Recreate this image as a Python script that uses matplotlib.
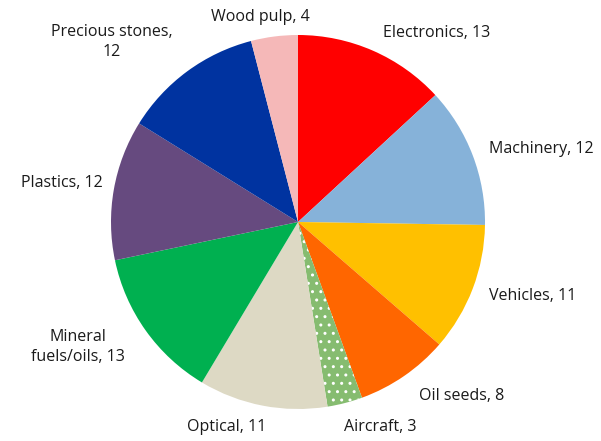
import matplotlib
matplotlib.use("Agg")
import matplotlib.pyplot as plt

# Data
categories = ["Electronics", "Machinery", "Vehicles", "Oil seeds", "Aircraft",
              "Optical", "Mineral\nfuels/oils", "Plastics", "Precious stones,\n", "Wood pulp"]
values = [13, 12, 11, 8, 3, 11, 13, 12, 12, 4]
colors = ["#FF0000", "#86B2D9", "#FFC000", "#FF6600", "#86BC70",
          "#DDD9C4", "#00B050", "#664A7F", "#0033A0", "#F5B8B8"]

# label placement (data units, radius = 1)
label_pos = [(0.743, 1.011), (1.30, 0.39), (1.257, -0.396),
             (0.877, -0.930), (0.439, -1.096), (-0.380, -1.096),
             (-1.176, -0.668), (-1.262, 0.209), (-0.995, 0.963),
             (-0.203, 1.096)]

plt.rcParams['font.family'] = ['Open Sans', 'DejaVu Sans']

fig = plt.figure(figsize=(6.01, 4.41), dpi=100)
cx, cy, r = 298, 222, 187
W, H = 601, 441
ax = fig.add_axes([(cx - r) / W, (H - cy - r) / H, 2 * r / W, 2 * r / H])

wedges, _ = ax.pie(values, colors=colors, startangle=90, counterclock=False,
                   radius=1, wedgeprops=dict(linewidth=0))
# dotted pattern on the aircraft slice
wedges[4].set_hatch('..')
wedges[4].set_edgecolor('white')
wedges[4].set_linewidth(0)

for name, v, (x, y) in zip(categories, values, label_pos):
    if name.endswith("\n"):
        txt = name + str(v)
    else:
        txt = f"{name}, {v}"
    ax.text(x, y, txt, ha="center", va="center", fontsize=11.5, color="#1a1a1a",
            multialignment="center", linespacing=1.4)

ax.set_xlim(-1, 1)
ax.set_ylim(-1, 1)
ax.set_aspect('equal')
ax.axis('off')

plt.savefig("out.png", dpi=100)
